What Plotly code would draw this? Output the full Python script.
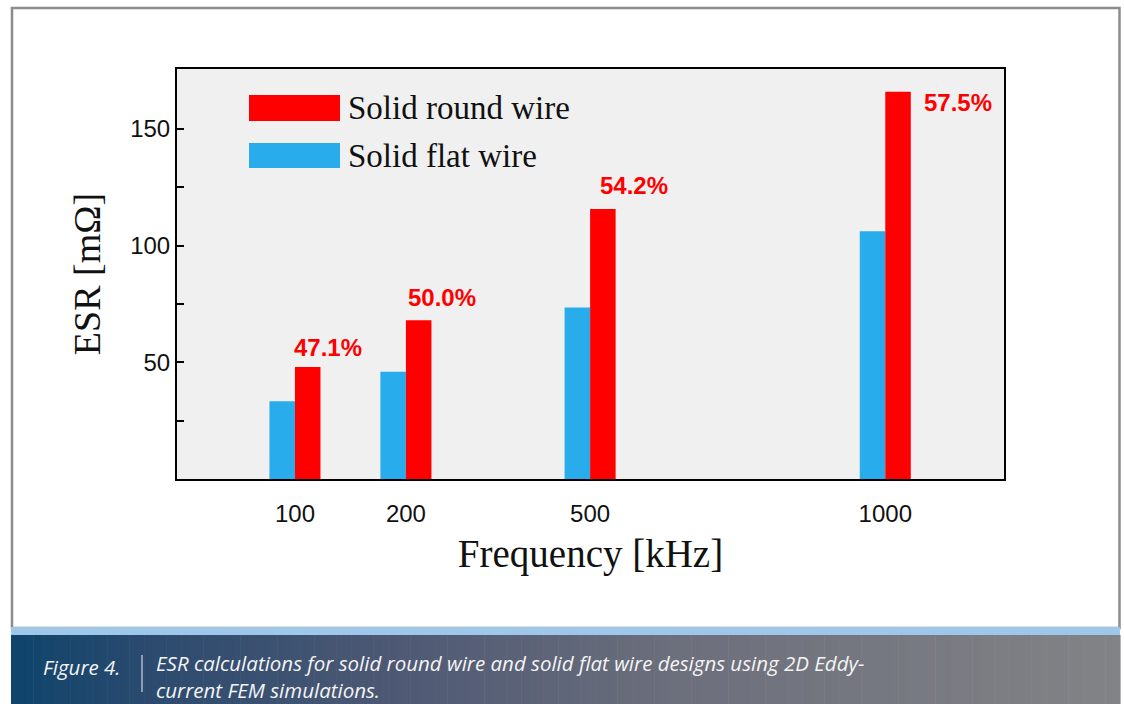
import plotly.graph_objects as go

# ESR of the two wire designs at each frequency (mOhm)
freq_labels = ["100", "200", "500", "1000"]
flat_esr = [33.3, 46.0, 73.5, 106.2]
round_esr = [48.0, 68.0, 115.7, 165.9]
pct_labels = ["47.1%", "50.0%", "54.2%", "57.5%"]

# horizontal placement of each frequency group on the x axis
group_x = [1.0, 2.0, 3.66, 6.32]

W, H = 1124, 704
BAR_W = 0.23


def px(x):
    return x / W


def py(y):
    return 1 - y / H


fig = go.Figure()
fig.add_trace(go.Bar(x=group_x, y=flat_esr, name="Solid flat wire",
                     marker=dict(color="#29acec", line=dict(width=0)),
                     width=BAR_W, offset=-BAR_W, showlegend=False))
fig.add_trace(go.Bar(x=group_x, y=round_esr, name="Solid round wire",
                     marker=dict(color="#ff0000", line=dict(width=0)),
                     width=BAR_W, offset=0, showlegend=False))

# percentage labels next to the round-wire bars
label_shift = [(20, 19), (23, 23), (31, 24), (60, -11)]
annotations = []
for xv, yv, txt, (dx, dy) in zip(group_x, round_esr, pct_labels, label_shift):
    annotations.append(dict(x=xv + BAR_W / 2, y=yv, xref="x", yref="y", text=f"<b>{txt}</b>",
                            showarrow=False, xshift=dx, yshift=dy,
                            font=dict(family="Arial, Liberation Sans", size=24, color="#ff0000")))

shapes = []
# outer frame
shapes.append(dict(type="rect", xref="paper", yref="paper", x0=px(12), x1=px(1119.5), y0=py(628), y1=py(8),
                   line=dict(color="#8c8c8c", width=2.5), fillcolor="rgba(0,0,0,0)", layer="below"))

# legend swatches
legend_items = [("Solid round wire", "#ff0000", 95, 121), ("Solid flat wire", "#29acec", 143, 168)]
for name, col, y0, y1 in legend_items:
    shapes.append(dict(type="rect", xref="paper", yref="paper", x0=px(249), x1=px(340), y0=py(y1), y1=py(y0),
                       line=dict(width=0), fillcolor=col))
    annotations.append(dict(x=px(346), y=py((y0 + y1) / 2), xref="paper", yref="paper", text=name,
                            showarrow=False, xanchor="left", yanchor="middle",
                            font=dict(family="Liberation Serif, Times New Roman", size=33, color="#111111")))

# caption band: light blue strip over a blue-to-grey gradient
shapes.append(dict(type="rect", xref="paper", yref="paper", x0=px(11), x1=px(1120), y0=py(635), y1=py(627),
                   line=dict(width=0), fillcolor="#9fc7e9"))
stops = [(0.0, (14, 68, 108)), (0.12, (42, 74, 110)), (0.35, (78, 89, 116)),
         (0.6, (108, 111, 124)), (1.0, (130, 131, 134))]


def grad(t):
    for (t0, c0), (t1, c1) in zip(stops[:-1], stops[1:]):
        if t0 <= t <= t1:
            f = (t - t0) / (t1 - t0)
            return "rgb(%d,%d,%d)" % tuple(round(a + (b - a) * f) for a, b in zip(c0, c1))
    return "rgb(%d,%d,%d)" % stops[-1][1]


n = 150
x_left, x_right = 11, 1120
for i in range(n):
    a = x_left + (x_right - x_left) * i / n
    b = x_left + (x_right - x_left) * (i + 1) / n + 0.6
    shapes.append(dict(type="rect", xref="paper", yref="paper", x0=px(a), x1=px(b), y0=py(704), y1=py(635),
                       line=dict(width=0), fillcolor=grad((i + 0.5) / n)))
shapes.append(dict(type="line", xref="paper", yref="paper", x0=px(142), x1=px(142), y0=py(692), y1=py(655),
                   line=dict(color="#f2f2f2", width=1)))

cap_font = dict(family="Open Sans", size=20.5, color="#f4f4f4")
annotations.append(dict(x=px(41), y=py(667), xref="paper", yref="paper", text="<i>Figure 4.</i>",
                        showarrow=False, xanchor="left", yanchor="middle", font=cap_font))
annotations.append(dict(x=px(154), y=py(676), xref="paper", yref="paper",
                        text="<i>ESR calculations for solid round wire and solid flat wire designs using 2D Eddy-</i>"
                             "<br><i>current FEM simulations.</i>",
                        showarrow=False, xanchor="left", yanchor="middle", align="left", font=cap_font))

fig.update_layout(
    width=W, height=H,
    margin=dict(l=0, r=0, t=0, b=0),
    paper_bgcolor="white",
    plot_bgcolor="#f0f0f0",
    barmode="overlay",
    shapes=shapes,
    annotations=annotations,
    xaxis=dict(domain=[px(177), px(1004)], range=[-0.063, 7.39],
               tickvals=group_x, ticktext=freq_labels,
               ticks="outside", ticklen=12, tickcolor="rgba(0,0,0,0)",
               showline=True, linecolor="black", linewidth=2, mirror=True,
               showgrid=False, zeroline=False,
               tickfont=dict(family="Arial, Liberation Sans", size=24, color="#111111"),
               title=dict(text="Frequency [kHz]", standoff=14,
                          font=dict(family="Liberation Serif, Times New Roman", size=39, color="#111111"))),
    yaxis=dict(domain=[py(479), py(69)], range=[0, 175.7],
               tickvals=[50, 100, 150], ticks="inside", ticklen=7, tickwidth=2, tickcolor="black",
               minor=dict(tickvals=[25, 75, 125], ticks="inside", ticklen=7, tickwidth=2, tickcolor="black"),
               showline=True, linecolor="black", linewidth=2, mirror=True,
               showgrid=False, zeroline=False,
               tickfont=dict(family="Arial, Liberation Sans", size=24, color="#111111"),
               title=dict(text="ESR [mΩ]", standoff=18,
                          font=dict(family="Liberation Serif, Times New Roman", size=38, color="#111111"))),
)

fig.write_html("out.html")
